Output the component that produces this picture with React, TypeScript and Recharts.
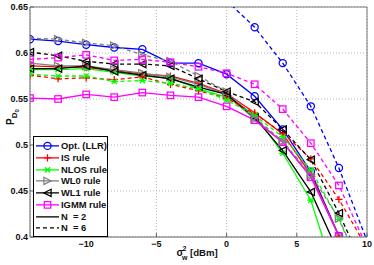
import React from 'react';
import { LineChart, Line, XAxis, YAxis, CartesianGrid, ReferenceLine, Legend } from 'recharts';

const xValues = [-14, -12, -10, -8, -6, -4, -2, 0, 2, 4, 6, 8, 10];

const optN2 = [0.615, 0.613, 0.609, 0.606, 0.604, 0.589, 0.589, 0.577, 0.553, 0.517, 0.471, 0.401, null];
const optN6 = [null, null, null, null, null, null, null, 0.657, 0.628, 0.589, 0.542, 0.475, 0.396];
const isN2 = [0.586, 0.585, 0.584, 0.581, 0.577, 0.575, 0.567, 0.556, 0.535, 0.512, 0.468, 0.401, null];
const isN6 = [0.576, 0.572, 0.573, 0.571, 0.574, 0.566, 0.559, 0.551, 0.534, 0.513, 0.485, 0.441, 0.388];
const nlosN2 = [0.582, 0.582, 0.583, 0.579, 0.575, 0.573, 0.561, 0.552, 0.533, 0.491, 0.44, 0.344, null];
const nlosN6 = [0.577, 0.575, 0.575, 0.569, 0.57, 0.567, 0.561, 0.549, 0.532, 0.509, 0.473, 0.419, 0.351];
const wl0N2 = [0.589, 0.586, 0.586, 0.582, 0.578, 0.574, 0.566, 0.555, 0.528, 0.503, 0.466, 0.401, null];
const wl0N6 = [0.616, 0.615, 0.611, 0.608, 0.598, 0.591, 0.575, 0.558, 0.53, 0.504, 0.468, 0.42, 0.352];
const wl1N2 = [0.583, 0.583, 0.586, 0.58, 0.576, 0.572, 0.563, 0.555, 0.53, 0.494, 0.449, 0.382, null];
const wl1N6 = [0.601, 0.597, 0.591, 0.588, 0.588, 0.586, 0.572, 0.558, 0.547, 0.517, 0.484, 0.426, 0.359];
const igmmN2 = [0.551, 0.55, 0.555, 0.552, 0.557, 0.554, 0.552, 0.542, 0.527, 0.503, 0.465, 0.401, null];
const igmmN6 = [0.593, 0.595, 0.598, 0.592, 0.593, 0.59, 0.585, 0.578, 0.566, 0.539, 0.502, 0.456, 0.389];

const xTicks = [-10, -5, 0, 5, 10];
const yTicks = [0.4, 0.45, 0.5, 0.55, 0.6, 0.65];

const legendNames = ['Opt. (LLR)', 'IS rule', 'NLOS rule', 'WL0 rule', 'WL1 rule', 'IGMM rule'];
const legendN = ['N  = 2', 'N  = 6'];

const rules = [
  { id: 'opt', color: '#0000ff', shape: 'circle', n2: optN2, n6: optN6 },
  { id: 'is', color: '#ff0000', shape: 'plus', n2: isN2, n6: isN6 },
  { id: 'nlos', color: '#00ff00', shape: 'star', n2: nlosN2, n6: nlosN6 },
  { id: 'wl0', color: '#808080', shape: 'tright', n2: wl0N2, n6: wl0N6 },
  { id: 'wl1', color: '#000000', shape: 'tleft', n2: wl1N2, n6: wl1N6 },
  { id: 'igmm', color: '#ff00ff', shape: 'square', n2: igmmN2, n6: igmmN6 },
];

const data = xValues.map((x, i) => {
  const row: any = { x };
  rules.forEach((r) => {
    row[r.id + 'N2'] = r.n2[i];
    row[r.id + 'N6'] = r.n6[i];
  });
  return row;
});

const FONT = '"Liberation Sans", Arial, Helvetica, sans-serif';

function Marker({ shape, cx, cy, color, s = 3.6 }: any) {
  const common = { fill: 'none', stroke: color, strokeWidth: 1.25 };
  switch (shape) {
    case 'circle':
      return <circle cx={cx} cy={cy} r={s} {...common} />;
    case 'plus':
      return <path d={`M${cx - s},${cy}H${cx + s}M${cx},${cy - s}V${cy + s}`} {...common} />;
    case 'star': {
      const d = s * 0.72;
      return (
        <path
          d={`M${cx - s},${cy}H${cx + s}M${cx - d},${cy - d}L${cx + d},${cy + d}M${cx - d},${cy + d}L${cx + d},${cy - d}`}
          {...common}
        />
      );
    }
    case 'tright':
      return <path d={`M${cx - s},${cy - s}L${cx + s},${cy}L${cx - s},${cy + s}Z`} {...common} />;
    case 'tleft':
      return <path d={`M${cx + s},${cy - s}L${cx - s},${cy}L${cx + s},${cy + s}Z`} {...common} />;
    case 'square':
      return <rect x={cx - s * 0.9} y={cy - s * 0.9} width={s * 1.8} height={s * 1.8} {...common} />;
    default:
      return null;
  }
}

function makeDot(key: string, shape: string, color: string) {
  return (p: any) => {
    if (p.cx == null || p.cy == null || p.value == null) return <g key={`${key}-${p.index}`} />;
    return (
      <g key={`${key}-${p.index}`}>
        <Marker shape={shape} cx={p.cx} cy={p.cy} color={color} />
      </g>
    );
  };
}

function LegendBox() {
  const rowH = 11.75;
  const rows: any[] = [];
  rules.forEach((r, i) => rows.push({ label: legendNames[i], color: r.color, shape: r.shape, dash: undefined }));
  rows.push({ label: legendN[0], color: '#000', shape: null, dash: undefined });
  rows.push({ label: legendN[1], color: '#000', shape: null, dash: '4 3' });
  return (
    <div
      style={{
        width: 73,
        height: 96,
        border: '1px solid #000',
        background: '#fff',
        paddingTop: 3,
        boxSizing: 'content-box',
        fontFamily: FONT,
        fontSize: 9.4,
        fontWeight: 'bold',
        color: '#111',
      }}
    >
      {rows.map((r, i) => (
        <div key={i} style={{ height: rowH, display: 'flex', alignItems: 'center', whiteSpace: 'pre' }}>
          <svg width={27} height={rowH} style={{ display: 'block', flex: 'none' }}>
            <line x1={2} x2={25} y1={rowH / 2} y2={rowH / 2} stroke={r.color} strokeWidth={1.3} strokeDasharray={r.dash} />
            {r.shape && <Marker shape={r.shape} cx={13.5} cy={rowH / 2} color={r.color} />}
          </svg>
          <span style={{ lineHeight: `${rowH}px` }}>{r.label}</span>
        </div>
      ))}
    </div>
  );
}

function YLabel(props: any) {
  const vb = props.viewBox || { x: 0, y: 7, width: 30, height: 230 };
  const x = vb.x + 14;
  const y = vb.y + vb.height / 2 - 5;
  return (
    <text
      x={x}
      y={y}
      transform={`rotate(-90, ${x}, ${y})`}
      textAnchor="middle"
      fontFamily={FONT}
      fontSize={10}
      fontWeight="bold"
      fill="#111"
    >
      P
      <tspan fontSize={8} dy={3}>
        D
      </tspan>
      <tspan fontSize={6} dy={2}>
        0
      </tspan>
    </text>
  );
}

function XLabel(props: any) {
  const vb = props.viewBox || { x: 30, y: 237, width: 337, height: 28 };
  const cx = vb.x + vb.width / 2;
  const base = vb.y + 19;
  return (
    <g fontFamily={FONT} fill="#111" fontWeight="bold">
      <text x={cx - 22} y={base} fontSize={10}>σ</text>
      <text x={cx - 16} y={base - 5.5} fontSize={7}>2</text>
      <text x={cx - 16.5} y={base + 3.5} fontSize={7}>w</text>
      <text x={cx - 8.5} y={base} fontSize={9.6}>[dBm]</text>
    </g>
  );
}

const fmtX = (v: number) => String(v).replace('-', '\u2212');
const fmtY = (v: number) => String(v);

const tickStyle = { fontSize: 9, fontFamily: FONT, fill: '#111', fontWeight: 'bold' };

export default function App() {
  const lines: any[] = [];
  rules.forEach((r) => {
    lines.push({ key: r.id + 'N2', color: r.color, shape: r.shape, dash: undefined });
  });
  rules.forEach((r) => {
    lines.push({ key: r.id + 'N6', color: r.color, shape: r.shape, dash: '4 3' });
  });
  return (
    <div style={{ position: 'absolute', left: 0, top: 0, background: '#fff' }}>
      <LineChart width={374} height={265} data={data} margin={{ top: 7, right: 7, bottom: 0, left: 0 }}>
        <CartesianGrid strokeDasharray="1 2" stroke="#b5b5b5" />
        <XAxis
          dataKey="x"
          type="number"
          domain={[-14, 10]}
          ticks={xTicks}
          allowDataOverflow
          height={28}
          tickSize={-4}
          tickMargin={8}
          tickFormatter={fmtX}
          stroke="#666"
          tick={tickStyle}
          label={{ content: (p: any) => <XLabel {...p} /> }}
        />
        <YAxis
          type="number"
          domain={[0.4, 0.65]}
          ticks={yTicks}
          allowDataOverflow
          width={30}
          tickSize={-4}
          tickMargin={6}
          tickFormatter={fmtY}
          stroke="#666"
          tick={tickStyle}
          label={{ content: (p: any) => <YLabel {...p} /> }}
        />
        <ReferenceLine y={0.65} stroke="#777" strokeWidth={1} />
        <ReferenceLine x={10} stroke="#777" strokeWidth={1} />
        {lines.map((l) => (
          <Line
            key={l.key}
            dataKey={l.key}
            type="linear"
            stroke={l.color}
            strokeWidth={1.3}
            strokeDasharray={l.dash}
            dot={makeDot(l.key, l.shape, l.color)}
            activeDot={false}
            isAnimationActive={false}
            connectNulls={false}
          />
        ))}
        <Legend
          layout="horizontal"
          verticalAlign="middle"
          align="center"
          wrapperStyle={{ position: 'absolute', left: 33, top: 136, width: 'auto', height: 'auto' }}
          content={() => <LegendBox />}
        />
      </LineChart>
    </div>
  );
}
